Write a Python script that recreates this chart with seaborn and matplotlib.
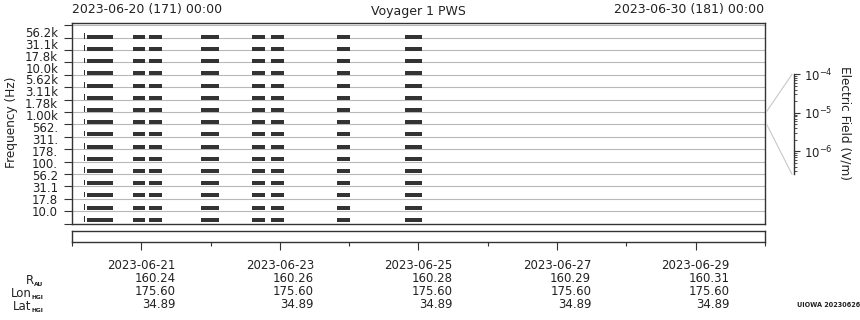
import matplotlib
matplotlib.use("Agg")
import matplotlib.pyplot as plt
import matplotlib.dates as mdates
import matplotlib.transforms as mtransforms
from matplotlib.lines import Line2D
import numpy as np
import pandas as pd
import seaborn as sns

# ---------------- data ----------------
channel_labels = ["56.2k", "31.1k", "17.8k", "10.0k", "5.62k", "3.11k", "1.78k", "1.00k",
                  "562.", "311.", "178.", "100.", "56.2", "31.1", "17.8", "10.0"]
seg_start = ["2023-06-20 05:18", "2023-06-20 21:06", "2023-06-21 02:42", "2023-06-21 20:42",
             "2023-06-22 14:18", "2023-06-22 20:54", "2023-06-23 19:48", "2023-06-24 19:18"]
seg_end = ["2023-06-20 14:06", "2023-06-21 01:12", "2023-06-21 07:00", "2023-06-22 02:48",
           "2023-06-22 18:48", "2023-06-23 01:24", "2023-06-24 00:18", "2023-06-25 01:12"]
spike_start = ["2023-06-20 04:15"]
spike_end = ["2023-06-20 04:36"]

tick_dates = ["2023-06-21", "2023-06-23", "2023-06-25", "2023-06-27", "2023-06-29"]
r_au = ["160.24", "160.26", "160.28", "160.29", "160.31"]
lon_hgi = ["175.60", "175.60", "175.60", "175.60", "175.60"]
lat_hgi = ["34.89", "34.89", "34.89", "34.89", "34.89"]

t0, t1 = "2023-06-20", "2023-06-30"
title = "Voyager 1 PWS"
left_title = "2023-06-20 (171) 00:00"
right_title = "2023-06-30 (181) 00:00"
row_names = ["R", "Lon", "Lat"]
row_subs = ["AU", "HGI", "HGI"]

# ---------------- style ----------------
sns.set_theme(style="ticks")
plt.rcParams["font.family"] = ["DejaVu Sans"]
plt.rcParams["font.size"] = 8.5
TXT = "#222222"
plt.rcParams["text.color"] = TXT
plt.rcParams["axes.edgecolor"] = "#333333"
plt.rcParams["xtick.color"] = "#333333"
plt.rcParams["ytick.color"] = "#333333"
plt.rcParams["xtick.labelcolor"] = TXT
plt.rcParams["ytick.labelcolor"] = TXT
plt.rcParams["mathtext.fontset"] = "dejavusans"

W, H = 860, 320
fig = plt.figure(figsize=(W / 100, H / 100), dpi=100)

def fx(px):
    return px / W

def fy(py):
    return 1 - py / H

# main spectrogram-like axes
ax = fig.add_axes([fx(72), fy(223.7), fx(765 - 72), (223.7 - 23) / H])
d0, d1 = mdates.date2num(pd.Timestamp(t0)), mdates.date2num(pd.Timestamp(t1))
ax.set_xlim(d0, d1)
ax.set_ylim(0, 16.185)

n = len(channel_labels)
for b in range(1, n + 1):
    ax.axhline(b, color="#b8b8b8", lw=0.8, zorder=1)

starts = mdates.date2num(pd.to_datetime(seg_start))
ends = mdates.date2num(pd.to_datetime(seg_end))
sp_s = mdates.date2num(pd.to_datetime(spike_start))
sp_e = mdates.date2num(pd.to_datetime(spike_end))
xr = list(zip(starts, ends - starts))
xs = list(zip(sp_s, sp_e - sp_s))
for i in range(n):  # i = 0 bottom channel
    yc = 0.31 + 0.984 * i
    ax.broken_barh(xr, (yc - 0.16, 0.32), facecolor="#333333", edgecolor="none", zorder=3)
    ax.broken_barh(xs, (yc - 0.16, 0.45), facecolor="#333333", edgecolor="none", zorder=3)

ax.set_yticks(np.arange(0, 17))
ax.set_yticklabels([])
ax.tick_params(axis="y", which="major", direction="out", length=5.8, width=0.8)
label_pos = [1.05 + 0.962 * i for i in range(n)]
ax.set_yticks(label_pos, channel_labels[::-1], minor=True)
ax.tick_params(axis="y", which="minor", length=0, pad=10, labelsize=8.5)
ax.set_xticks([])
for s in ax.spines.values():
    s.set_visible(True)
    s.set_linewidth(1.0)

fig.text(fx(12), fy(122), "Frequency (Hz)", rotation=90, ha="center", va="center", fontsize=8.7)

# titles
fig.text(fx(72), fy(9), left_title, ha="left", va="center", fontsize=9)
fig.text(fx(418), fy(11), title, ha="center", va="center", fontsize=9)
fig.text(fx(764), fy(9), right_title, ha="right", va="center", fontsize=9)

# time strip
ax2 = fig.add_axes([fx(72), fy(242), fx(765 - 72), 11 / H])
ax2.set_xlim(d0, d1)
ax2.set_yticks([])
tick_num = mdates.date2num(pd.to_datetime(tick_dates))
ax2.set_xticks(tick_num, [""] * len(tick_num))
ax2.set_xticks(mdates.date2num(pd.date_range(t0, t1, freq="2D")), minor=True)
ax2.tick_params(axis="x", which="major", direction="out", length=5.8, width=0.8)
ax2.tick_params(axis="x", which="minor", direction="out", length=3.2, width=0.8)
for s in ax2.spines.values():
    s.set_visible(True)
    s.set_linewidth(1.0)

trans = mtransforms.blended_transform_factory(ax2.transData, fig.transFigure)
for k, x in enumerate(tick_num):
    ax2.text(x, fy(259.3), f"{tick_dates[k]}\n{r_au[k]}\n{lon_hgi[k]}\n{lat_hgi[k]}",
             transform=trans, ha="center", va="top", multialignment="right",
             linespacing=0.98, fontsize=8.5, clip_on=False)

main_right = [34.3, 31.7, 31.7]
main_base = [283.8, 297.0, 310.3]
sub_base = [286.0, 299.3, 312.3]
for j in range(3):
    fig.text(fx(main_right[j]), fy(main_base[j]), row_names[j], ha="right", va="baseline", fontsize=8.5)
    fig.text(fx(43.5), fy(sub_base[j]), row_subs[j], ha="right", va="baseline",
             fontsize=4.3, fontweight="bold")

fig.text(fx(860), fy(305), "UIOWA 20230626", ha="right", va="center",
         fontsize=4.7, fontweight="bold")

# colour-bar scale
cax = fig.add_axes([fx(792.5), fy(174.3), fx(1), 100 / H])
cax.set_yscale("log")
cax.set_ylim(10 ** -6.6, 1e-4)
cax.set_xticks([])
for name, s in cax.spines.items():
    s.set_visible(name == "right")
cax.spines["right"].set_linewidth(1.0)
cax.yaxis.tick_right()
cax.set_yticks([1e-6, 1e-5, 1e-4])
cax.set_yticklabels([r"$10^{-6}$", r"$10^{-5}$", r"$10^{-4}$"])
cax.tick_params(axis="y", which="major", direction="out", length=4.3, width=0.8, pad=3.5, labelsize=8.5)
cax.tick_params(axis="y", which="minor", direction="out", length=2.5, width=0.6)
cax.patch.set_alpha(0)
fig.text(fx(845), fy(123), "Electric Field (V/m)", rotation=270, ha="center", va="center", fontsize=8.7)

fig.add_artist(Line2D([fx(766.5), fx(792)], [fy(111.7), fy(74.3)], transform=fig.transFigure,
                      color="#c8c8c8", lw=0.8))
fig.add_artist(Line2D([fx(766.5), fx(792)], [fy(124), fy(174.3)], transform=fig.transFigure,
                      color="#c8c8c8", lw=0.8))

fig.savefig("out.png", dpi=100)
